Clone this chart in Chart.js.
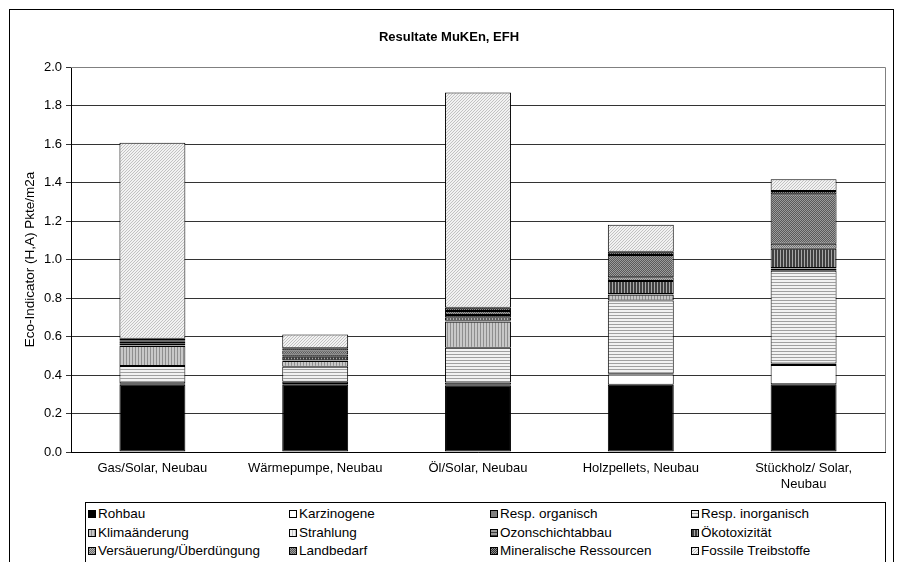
<!DOCTYPE html>
<html><head><meta charset="utf-8">
<script src="https://cdn.jsdelivr.net/npm/chart.js@4"></script>
<style>
html,body{margin:0;padding:0;background:#fff;}
#wrap{position:relative;width:898px;height:562px;overflow:hidden;font-family:Arial,"Liberation Sans",sans-serif;color:#000;}
#frame{position:absolute;left:9px;top:9px;width:885px;height:600px;border:1px solid #000;box-sizing:border-box;}
#title{position:absolute;left:0;width:898px;top:29px;text-align:center;font-weight:bold;font-size:13px;line-height:16px;}
#legend{position:absolute;left:85px;top:502px;width:801px;height:80px;border:1px solid #000;box-sizing:border-box;background:#fff;}
.item{position:absolute;font-size:13.5px;line-height:16px;white-space:nowrap;}
.item canvas{position:absolute;left:0;top:4px;}
.item span{position:absolute;left:10px;top:0;}
#c{position:absolute;left:0;top:0;}
</style></head>
<body>
<div id="wrap">
  <div id="frame"></div>
  <canvas id="c" width="898" height="562"></canvas>
  <div id="title">Resultate MuKEn, EFH</div>
  <div id="legend"></div>
</div>
<script>
// ---- data ----
const categories = ['Gas/Solar, Neubau', 'Wärmepumpe, Neubau', 'Öl/Solar, Neubau', 'Holzpellets, Neubau', ['Stückholz/ Solar,', 'Neubau']];
const seriesNames = ['Rohbau', 'Karzinogene', 'Resp. organisch', 'Resp. inorganisch', 'Klimaänderung', 'Strahlung', 'Ozonschichtabbau', 'Ökotoxizität', 'Versäuerung/Überdüngung', 'Landbedarf', 'Mineralische Ressourcen', 'Fossile Treibstoffe'];
const rohbau          = [0.350, 0.350, 0.347, 0.350, 0.352];
const karzinogene     = [0.003, 0.003, 0.002, 0.052, 0.100];
const respOrganisch   = [0.004, 0.012, 0.012, 0.005, 0.008];
const respInorganisch = [0.090, 0.078, 0.181, 0.380, 0.482];
const klima           = [0.104, 0.030, 0.135, 0.030, 0.010];
const strahlung       = [0.002, 0.002, 0.002, 0.002, 0.002];
const ozon            = [0.002, 0.002, 0.003, 0.002, 0.002];
const oeko            = [0.010, 0.018, 0.018, 0.067, 0.100];
const versaeuerung    = [0.010, 0.012, 0.012, 0.020, 0.026];
const landbedarf      = [0.006, 0.020, 0.020, 0.115, 0.257];
const mineral         = [0.007, 0.012, 0.017, 0.017, 0.017];
const fossil          = [1.019, 0.072, 1.119, 0.140, 0.061];
const seriesValues = [rohbau, karzinogene, respOrganisch, respInorganisch, klima, strahlung, ozon, oeko, versaeuerung, landbedarf, mineral, fossil];
const yTicks = [0, 0.2, 0.4, 0.6, 0.8, 1.0, 1.2, 1.4, 1.6, 1.8, 2.0];

// ---- fill patterns (tile = 2D array of colours) ----
const tiles = [
  [['#000000']],
  [['#ffffff']],
  [['#808080']],
  [['#a0a0a0','#a0a0a0'],['#f2f2f2','#f2f2f2'],['#f2f2f2','#f2f2f2']],
  [['#8e8e8e','#c8c8c8','#c8c8c8']],
  [['#c4c4c4','#f2f2f2','#f2f2f2']],
  [['#3c3c3c','#3c3c3c'],['#9a9a9a','#9a9a9a'],['#9a9a9a','#9a9a9a']],
  [['#a8a8a8','#404040','#404040']],
  [['#6e6e6e','#b4b4b4'],['#b4b4b4','#6e6e6e']],
  [['#9c9c9c','#5a5a5a'],['#5a5a5a','#9c9c9c']],
  [['#2e2e2e','#8c8c8c'],['#8c8c8c','#2e2e2e']],
  [['#f2f2f2','#f2f2f2','#c2c2c2'],['#f2f2f2','#c2c2c2','#f2f2f2'],['#c2c2c2','#f2f2f2','#f2f2f2']]
];
function tileCanvas(t){
  const c = document.createElement('canvas');
  c.width = t[0].length; c.height = t.length;
  const g = c.getContext('2d');
  for (let y = 0; y < t.length; y++) for (let x = 0; x < t[y].length; x++) { g.fillStyle = t[y][x]; g.fillRect(x, y, 1, 1); }
  return c;
}
const mainCtx = document.getElementById('c').getContext('2d');
const patterns = tiles.map(t => mainCtx.createPattern(tileCanvas(t), 'repeat'));

// ---- HTML legend ----
const legend = document.getElementById('legend');
seriesNames.forEach((name, i) => {
  const col = i % 4, row = Math.floor(i / 4);
  const it = document.createElement('div');
  it.className = 'item';
  it.style.left = (2 + col * 201) + 'px';
  it.style.top = (3 + row * 18.5) + 'px';
  const sw = document.createElement('canvas');
  sw.width = 8; sw.height = 8;
  const g = sw.getContext('2d');
  g.fillStyle = g.createPattern(tileCanvas(tiles[i]), 'repeat');
  g.fillRect(0, 0, 8, 8);
  g.strokeStyle = '#000'; g.lineWidth = 1; g.strokeRect(0.5, 0.5, 7, 7);
  const sp = document.createElement('span');
  sp.textContent = name;
  it.appendChild(sw); it.appendChild(sp);
  legend.appendChild(it);
});

// ---- plot-area frame ----
const frame = {
  id: 'frame',
  beforeDatasetsDraw(chart) {
    const {ctx, chartArea: a} = chart;
    ctx.save();
    ctx.strokeStyle = '#808080'; ctx.lineWidth = 1;
    ctx.beginPath();
    ctx.moveTo(a.left, Math.round(a.top) + 0.5);
    ctx.lineTo(Math.round(a.right) + 0.5, Math.round(a.top) + 0.5);
    ctx.lineTo(Math.round(a.right) + 0.5, a.bottom);
    ctx.stroke();
    ctx.restore();
  }
};

const font = {family: 'Arial, "Liberation Sans", sans-serif', size: 13};
new Chart(document.getElementById('c'), {
  type: 'bar',
  data: {
    labels: categories,
    datasets: seriesNames.map((n, i) => ({
      label: n,
      data: seriesValues[i],
      backgroundColor: patterns[i],
      borderColor: '#000',
      borderWidth: 1,
      borderSkipped: false,
      categoryPercentage: 1,
      barPercentage: 0.405
    }))
  },
  options: {
    responsive: false,
    animation: false,
    devicePixelRatio: 1,
    layout: {padding: {left: 0, top: 67, right: 13, bottom: 60}},
    plugins: {legend: {display: false}, tooltip: {enabled: false}, title: {display: false}},
    scales: {
      x: {
        stacked: true,
        grid: {display: false, drawTicks: false},
        border: {display: true, color: '#000', width: 1},
        ticks: {color: '#000', font: font, padding: 9, maxRotation: 0, autoSkip: false},
        afterFit(s) { s.height = 50; }
      },
      y: {
        stacked: true,
        min: 0, max: 2,
        afterBuildTicks(s) { s.ticks = yTicks.map(v => ({value: v})); },
        grid: {color: '#333', lineWidth: 1, drawTicks: true, tickLength: 5},
        border: {display: true, color: '#000', width: 1},
        ticks: {color: '#000', font: font, padding: 4, callback: v => Number(v).toFixed(1)},
        title: {display: true, text: 'Eco-Indicator (H,A) Pkte/m2a', color: '#000', font: {family: font.family, size: 13.5}, padding: {top: 22, bottom: 0}},
        afterFit(s) { s.width = 71; }
      }
    }
  },
  plugins: [frame]
});
</script>
</body></html>
